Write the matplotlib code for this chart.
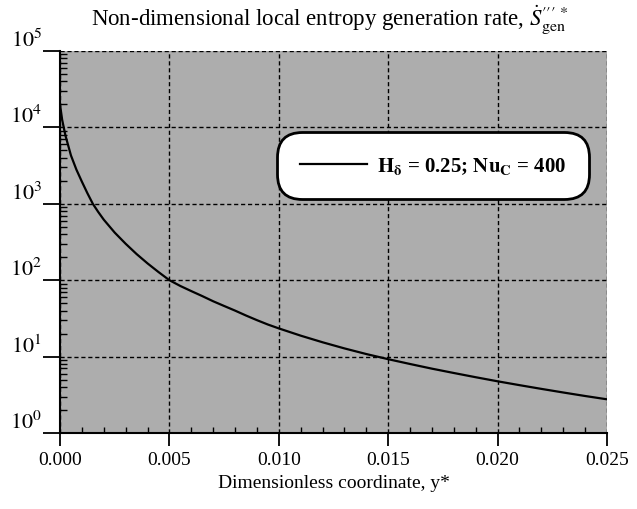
import numpy as np
import matplotlib
matplotlib.use("Agg")
import matplotlib.pyplot as plt
from matplotlib.ticker import LogLocator, MultipleLocator, NullFormatter, FixedLocator

# ── Data ──────────────────────────────────────────────────────────────────────
y_star = [0.0, 0.0001, 0.00025, 0.0005, 0.00075, 0.001, 0.00125, 0.0015,
          0.00175, 0.002, 0.0025, 0.003, 0.0035, 0.004, 0.0045, 0.005,
          0.0055, 0.006, 0.0065, 0.007, 0.0075, 0.008, 0.0085, 0.009,
          0.0095, 0.010, 0.011, 0.012, 0.013, 0.014, 0.015, 0.016, 0.017,
          0.018, 0.019, 0.020, 0.021, 0.022, 0.023, 0.024, 0.025]
s_gen = [20000, 12500, 7800, 4300, 2800, 1950, 1380, 1000,
         780, 620, 420, 300, 220, 166, 128, 100,
         84, 72, 62, 53, 46, 40, 34.5, 30,
         26.3, 23.4, 18.8, 15.4, 12.8, 10.8, 9.25, 8.0, 6.95,
         6.1, 5.37, 4.75, 4.23, 3.78, 3.39, 3.05, 2.76]

x_ticks = [0.000, 0.005, 0.010, 0.015, 0.020, 0.025]
x_tick_labels = ["0.000", "0.005", "0.010", "0.015", "0.020", "0.025"]
y_ticks = [1e0, 1e1, 1e2, 1e3, 1e4, 1e5]
y_tick_labels = [r"$10^{0}$", r"$10^{1}$", r"$10^{2}$", r"$10^{3}$", r"$10^{4}$", r"$10^{5}$"]

legend_label = r"$\mathbf{H_\delta}$ = 0.25; $\mathbf{Nu_C}$ = 400"

# ── Style ─────────────────────────────────────────────────────────────────────
plt.rcParams["font.family"] = ["Liberation Serif", "DejaVu Serif"]
plt.rcParams["mathtext.fontset"] = "stix"

fig = plt.figure(figsize=(6.37, 5.10), dpi=100)
ax = fig.add_axes([60 / 637, 1 - 434 / 510, 547 / 637, 382 / 510])
ax.set_facecolor("#adadad")

ax.plot(y_star, s_gen, color="black", linewidth=1.6, label=legend_label, zorder=4)

ax.set_yscale("log")
ax.set_xlim(0, 0.025)
ax.set_ylim(1, 1e5)

# ticks
ax.xaxis.set_major_locator(FixedLocator(x_ticks))
ax.set_xticklabels(x_tick_labels)
ax.xaxis.set_minor_locator(MultipleLocator(0.001))
ax.yaxis.set_major_locator(FixedLocator(y_ticks))
ax.set_yticklabels(y_tick_labels)
ax.yaxis.set_minor_locator(LogLocator(base=10, subs=np.arange(2, 10)))
ax.yaxis.set_minor_formatter(NullFormatter())

ax.tick_params(axis="x", which="major", direction="out", length=9, width=1.3,
               labelsize=14, pad=4)
ax.tick_params(axis="x", which="minor", direction="in", length=4, width=1)
ax.tick_params(axis="y", which="major", direction="out", length=12, width=1.3,
               labelsize=16, pad=1)
ax.tick_params(axis="y", which="minor", direction="in", length=5, width=1)

for lbl in ax.get_yticklabels():
    lbl.set_verticalalignment("bottom")

# grid
ax.grid(True, which="major", color="black", linestyle=(0, (3, 2)), linewidth=1.0)

# spines
for side in ("top", "right"):
    ax.spines[side].set_visible(False)
for side in ("left", "bottom"):
    ax.spines[side].set_linewidth(1.5)

# legend
leg = ax.legend(loc="center", bbox_to_anchor=(0.682, 0.70), fontsize=15,
                handlelength=3.2, handletextpad=0.5, frameon=True,
                fancybox=True, framealpha=1, borderpad=0.8)
frame = leg.get_frame()
frame.set_edgecolor("black")
frame.set_linewidth(2.0)
frame.set_facecolor("white")
frame.set_boxstyle("round", pad=0.3, rounding_size=1.2)
for t in leg.get_texts():
    t.set_fontweight("bold")
leg.set_zorder(6)

# labels
fig.text(330 / 637, 1 - 20 / 510,
         r"Non-dimensional local entropy generation rate, $\dot{S}^{\prime\prime\prime\,*}_{\mathrm{gen}}$",
         ha="center", va="center", fontsize=16.5)
ax.set_xlabel("Dimensionless coordinate, y*", fontsize=14, labelpad=4)

fig.savefig("out.png", dpi=100)
